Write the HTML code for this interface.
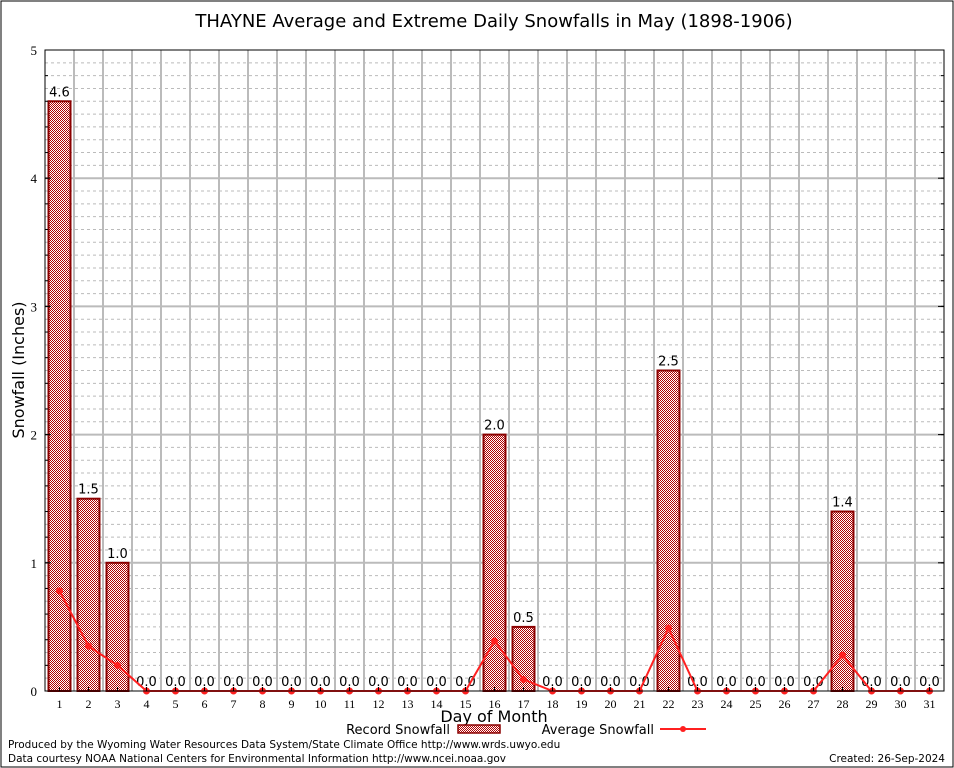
<!DOCTYPE html>
<html><head><meta charset="utf-8"><style>
body{margin:0;background:#fff;}
svg{display:block;font-family:"DejaVu Sans","Liberation Sans",sans-serif;}
</style></head><body>
<svg id="chart" width="954" height="768">
<defs>
<pattern id="chk" width="2" height="2" patternUnits="userSpaceOnUse">
<rect width="2" height="2" fill="#fff"/>
<rect width="1" height="1" fill="#b00000"/><rect x="1" y="1" width="1" height="1" fill="#b00000"/>
</pattern>
</defs>
<rect x="1" y="1" width="952" height="766" fill="none" stroke="#000"/>
<text x="494" y="27" font-size="18" text-anchor="middle">THAYNE Average and Extreme Daily Snowfalls in May (1898-1906)</text>
<g id="grid"></g><g id="bars"></g><g id="line"></g><g id="axes"></g>
<text x="24" y="370" font-size="16" text-anchor="middle" transform="rotate(-90 24 370)">Snowfall (Inches)</text>
<text x="494" y="722" font-size="16" text-anchor="middle">Day of Month</text>
<g>
<text x="450" y="734" font-size="13" text-anchor="end">Record Snowfall</text>
<rect x="458" y="725" width="42" height="8" fill="url(#chk)" stroke="#8b0000" stroke-width="1.5"/>
</g>
<g>
<text x="654" y="734" font-size="13" text-anchor="end">Average Snowfall</text>
<line x1="660" y1="729" x2="706" y2="729" stroke="#ff2020" stroke-width="2"/>
<circle cx="683" cy="729" r="3" fill="#ff2020"/>
</g>
<text x="8" y="748" font-size="10.5">Produced by the Wyoming Water Resources Data System/State Climate Office http://www.wrds.uwyo.edu</text>
<text x="8" y="762" font-size="10.5">Data courtesy NOAA National Centers for Environmental Information http://www.ncei.noaa.gov</text>
<text x="945" y="762" font-size="10.5" text-anchor="end">Created: 26-Sep-2024</text>
</svg>
<script>
const days = [1,2,3,4,5,6,7,8,9,10,11,12,13,14,15,16,17,18,19,20,21,22,23,24,25,26,27,28,29,30,31];
const recordSnow = [4.6,1.5,1.0,0,0,0,0,0,0,0,0,0,0,0,0,2.0,0.5,0,0,0,0,2.5,0,0,0,0,0,1.4,0,0,0];
const avgSnow = [0.78,0.35,0.2,0,0,0,0,0,0,0,0,0,0,0,0,0.39,0.09,0,0,0,0,0.49,0,0,0,0,0,0.28,0,0,0];
const yTicks = [0,1,2,3,4,5];
const NS="http://www.w3.org/2000/svg";
const L=45,R=944,T=50,B=691;
const slot=(R-L)/days.length;
const xc=i=>L+slot*(i+0.5);
const y=v=>B-(v/5)*(B-T);
function mk(tag,attrs,parent){const e=document.createElementNS(NS,tag);for(const k in attrs)e.setAttribute(k,attrs[k]);parent.appendChild(e);return e;}
const grid=document.getElementById('grid'),bars=document.getElementById('bars'),line=document.getElementById('line'),axes=document.getElementById('axes');
for(let v=0.1;v<5;v+=0.1){if(Math.abs(v-Math.round(v))<0.01)continue;
 const g=mk('line',{x1:L,x2:R,y1:y(v),y2:y(v),stroke:'#bbb','stroke-dasharray':'3,3','stroke-width':1},grid);
 }
for(let i=1;i<days.length;i++){const g=mk('line',{x1:L+slot*i,x2:L+slot*i,y1:T,y2:B,stroke:'#bbb','stroke-width':2},grid);
 }
yTicks.forEach(v=>{if(v>0&&v<5){const g=mk('line',{x1:L,x2:R,y1:y(v),y2:y(v),stroke:'#bbb','stroke-width':2},grid);
 }
 const t=mk('text',{x:L-8,y:y(v)+5,'font-size':13,'text-anchor':'end','font-family':'Liberation Serif, serif'},axes);t.textContent=v;
 
 mk('line',{x1:L,x2:L+6,y1:y(v),y2:y(v),stroke:'#000'},axes);mk('line',{x1:R,x2:R-6,y1:y(v),y2:y(v),stroke:'#000'},axes);});
for(let v=0.2;v<5;v+=0.2){mk('line',{x1:L,x2:L+3,y1:y(v),y2:y(v),stroke:'#000'},axes);mk('line',{x1:R,x2:R-3,y1:y(v),y2:y(v),stroke:'#000'},axes);}
days.forEach((d,i)=>{
 const v=recordSnow[i];
 if(v>0){const r=mk('rect',{x:xc(i)-11,y:y(v),width:22,height:B-y(v),fill:'url(#chk)',stroke:'#8b0000','stroke-width':2},bars);
  }
 const lt=mk('text',{x:xc(i),y:y(v)-5,'font-size':13,'text-anchor':'middle'},bars);lt.textContent=v.toFixed(1);
 
 const t=mk('text',{x:xc(i),y:B+17,'font-size':12,'text-anchor':'middle','font-family':'Liberation Serif, serif'},axes);t.textContent=d;
 
 mk('line',{x1:xc(i),x2:xc(i),y1:B,y2:B-4,stroke:'#000'},axes);
});
const pl=mk('polyline',{points:avgSnow.map((v,i)=>xc(i)+','+y(v)).join(' '),fill:'none',stroke:'#ff2020','stroke-width':2},line);

avgSnow.forEach((v,i)=>{const c=mk('circle',{cx:xc(i),cy:y(v),r:3.5,fill:'#ff2020'},line);
 });
const ax=mk('rect',{x:L,y:T,width:R-L,height:B-T,fill:'none',stroke:'#000','stroke-width':1},axes);

</script>
</body></html>
